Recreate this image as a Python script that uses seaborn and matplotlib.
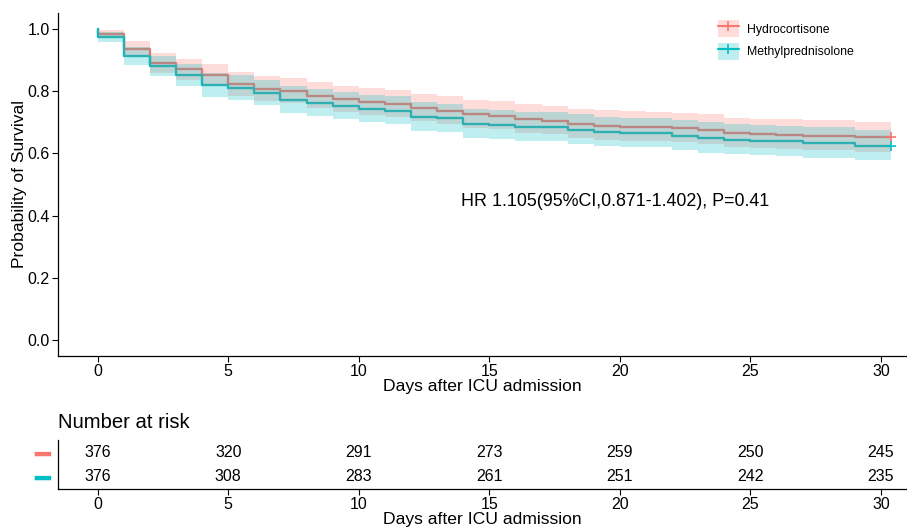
import numpy as np
import pandas as pd
import matplotlib
matplotlib.use("Agg")
import matplotlib.pyplot as plt
import seaborn as sns
from matplotlib.patches import Patch
from matplotlib.lines import Line2D

# Kaplan-Meier step values: value on [day, day + 1)
days = list(range(31))
surv_hc = [0.984, 0.935, 0.890, 0.869, 0.851, 0.822, 0.807, 0.801, 0.785, 0.774,
           0.766, 0.758, 0.745, 0.737, 0.726, 0.721, 0.710, 0.705, 0.694, 0.689,
           0.686, 0.684, 0.681, 0.676, 0.665, 0.662, 0.660, 0.657, 0.657, 0.652,
           0.652]
surv_mp = [0.973, 0.911, 0.879, 0.850, 0.819, 0.810, 0.794, 0.772, 0.762, 0.753,
           0.742, 0.737, 0.717, 0.712, 0.694, 0.691, 0.685, 0.685, 0.676, 0.668,
           0.665, 0.665, 0.657, 0.649, 0.644, 0.641, 0.638, 0.633, 0.633, 0.625,
           0.625]
end_time = 30.4
n_start = 376

groups = ["Hydrocortisone", "Methylprednisolone"]
colors = ["#F8766D", "#00BFC4"]

# number at risk table
risk_times = [0, 5, 10, 15, 20, 25, 30]
risk_hc = [376, 320, 291, 273, 259, 250, 245]
risk_mp = [376, 308, 283, 261, 251, 242, 235]

hr_text = "HR 1.105(95%CI,0.871-1.402), P=0.41"

sns.set_style("ticks")
plt.rcParams["font.family"] = ["Liberation Sans", "DejaVu Sans"]
plt.rcParams["text.color"] = "black"
plt.rcParams["axes.labelcolor"] = "black"

# long table for seaborn: curve starts at 1 at time 0, then steps
rows = []
for g, s in zip(groups, [surv_hc, surv_mp]):
    t = [0] + days + [end_time]
    v = [1.0] + s + [s[-1]]
    for ti, vi in zip(t, v):
        rows.append({"time": ti, "surv": vi, "group": g})
df = pd.DataFrame(rows)

fig = plt.figure(figsize=(9.07, 5.29), dpi=100)
ax = fig.add_axes([58 / 907, 1 - 356 / 529, 1 - 58 / 907, (356 - 13) / 529])
ax_r = fig.add_axes([58 / 907, 1 - 489 / 529, 1 - 58 / 907, 49 / 529])

sns.lineplot(data=df, x="time", y="surv", hue="group", palette=colors,
             estimator=None, sort=False, drawstyle="steps-post",
             linewidth=1.7, legend=False, ax=ax, zorder=2)

# log-type Greenwood confidence bands (no censoring before the end)
band_alpha = 0.25
handles = []
for g, c in zip(groups, colors):
    d = df[df["group"] == g]
    s = d["surv"].to_numpy()
    se = np.sqrt(np.clip(1 / s - 1, 0, None) / n_start)
    lo = s * np.exp(-1.96 * se)
    hi = np.minimum(1, s * np.exp(1.96 * se))
    ax.fill_between(d["time"], lo, hi, step="post", color=c, alpha=band_alpha,
                    lw=0, zorder=3)
    ax.plot([end_time], [s[-1]], marker="+", color=c, markersize=7,
            mew=1.2, ls="none", zorder=4, clip_on=False)
    handles.append((Patch(facecolor=c, alpha=band_alpha, edgecolor="none"),
                    Line2D([], [], color=c, lw=1.5, marker="+",
                           markersize=7, mew=1.2)))

ax.set_xlim(-1.52, 31.0)
ax.set_ylim(-0.05, 1.05)
ax.set_xticks(range(0, 31, 5))
ax.set_yticks([0, 0.2, 0.4, 0.6, 0.8, 1.0])
ax.set_yticklabels(["0.0", "0.2", "0.4", "0.6", "0.8", "1.0"])
ax.tick_params(labelsize=11.5, length=4, width=0.8, color="black",
               labelcolor="black", pad=2)
ax.set_xlabel("Days after ICU admission", fontsize=12.6, labelpad=0)
ax.set_ylabel("Probability of Survival", fontsize=12.6, labelpad=0)
for sp in ["top", "right"]:
    ax.spines[sp].set_visible(False)
for sp in ["left", "bottom"]:
    ax.spines[sp].set_color("black")
    ax.spines[sp].set_linewidth(0.9)

ax.text(19.82, 0.445, hr_text, ha="center", va="center", fontsize=12.9)

leg = ax.legend(handles, groups, loc="upper left", frameon=False,
                bbox_to_anchor=(718 / 907, 1 - 20 / 529),
                bbox_transform=fig.transFigure, fontsize=8.8,
                handlelength=1.7, handleheight=1.8, labelspacing=0.45,
                handletextpad=0.7, borderpad=0, borderaxespad=0)

# risk table
for yrow, vals in zip([1.5, 0.5], [risk_hc, risk_mp]):
    for t, n in zip(risk_times, vals):
        ax_r.text(t, yrow, str(n), ha="center", va="center", fontsize=11.5)
ax_r.set_xlim(-1.52, 31.0)
ax_r.set_ylim(0, 2)
ax_r.set_xticks(risk_times)
ax_r.set_yticks([1.5, 0.5])
ax_r.set_yticklabels(["━", "━"], fontsize=19, fontfamily="DejaVu Sans")
for lab, c in zip(ax_r.get_yticklabels(), colors):
    lab.set_color(c)
ax_r.tick_params(axis="y", length=0, pad=6)
ax_r.tick_params(axis="x", labelsize=11.5, length=4, width=0.8,
                 color="black", labelcolor="black", pad=2)
ax_r.set_xlabel("Days after ICU admission", fontsize=12.6, labelpad=0)
ax_r.set_title("Number at risk", loc="left", fontsize=14.6, pad=9)
for sp in ["top", "right"]:
    ax_r.spines[sp].set_visible(False)
for sp in ["left", "bottom"]:
    ax_r.spines[sp].set_color("black")
    ax_r.spines[sp].set_linewidth(0.9)

fig.savefig("out.png", dpi=100)
